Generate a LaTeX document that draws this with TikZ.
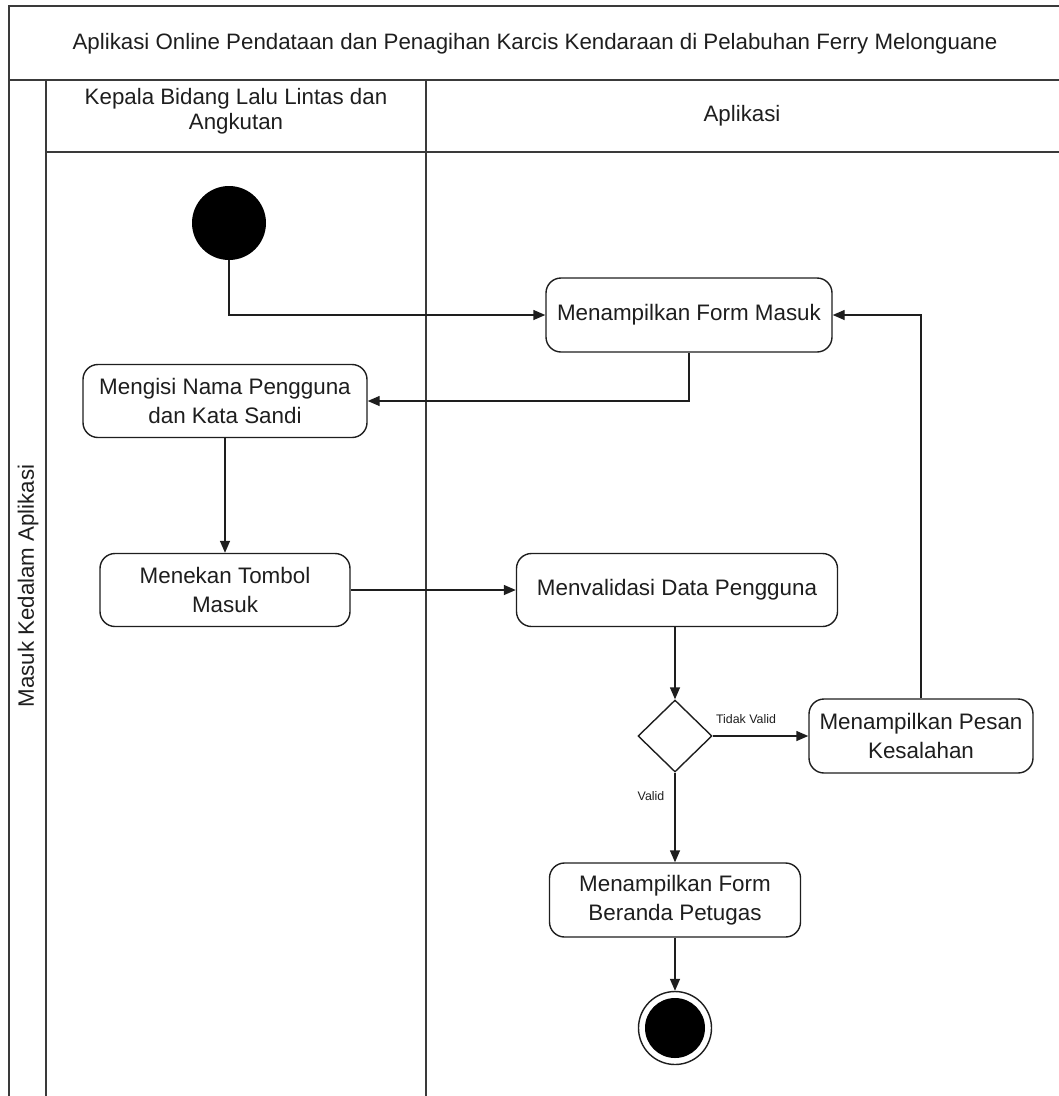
\documentclass[tikz,border=0pt]{standalone}
\usepackage{fontspec}
\setmainfont{Liberation Sans}
\usetikzlibrary{arrows.meta,shapes.geometric}
\definecolor{lane}{HTML}{3A3A3A}
\definecolor{ink}{HTML}{1E1E1E}
\tikzset{
  lanerule/.style={draw=lane,line width=2pt},
  action/.style={draw=ink,line width=1.4pt,rounded corners=15pt,fill=white,
    align=center,text=ink,inner sep=0pt,font=\fontsize{22.4}{29.5}\selectfont},
  flow/.style={draw=ink,line width=1.4pt,-{Triangle[length=12pt,width=10pt]}},
  guard/.style={text=ink,font=\fontsize{12.4}{14}\selectfont,inner sep=0pt},
  headtext/.style={text=ink,align=center,inner sep=0pt,font=\fontsize{22.3}{25}\selectfont}
}
\begin{document}
\begin{tikzpicture}[x=1pt,y=-1pt]
\useasboundingbox (0,0) rectangle (1059,1096);
% swimlane frame
\draw[lanerule] (1059,6) -- (9,6) -- (9,1096);
\draw[lanerule] (9,80) -- (1059,80);
\draw[lanerule] (46,80) -- (46,1096);
\draw[lanerule] (46,152) -- (1059,152);
\draw[lanerule] (426,80) -- (426,1096);
% titles
\node[headtext] (title) at (535,44) {Aplikasi Online Pendataan dan Penagihan Karcis Kendaraan di Pelabuhan Ferry Melonguane};
\node[headtext] (laneA) at (236,111) {Kepala Bidang Lalu Lintas dan\\Angkutan};
\node[headtext] (laneB) at (742,116) {Aplikasi};
\node[headtext,rotate=90] (part) at (28,586) {Masuk Kedalam Aplikasi};
% activity nodes
\node[circle,fill=black,minimum size=74pt,inner sep=0pt] (start) at (229,223) {};
\node[action,minimum width=286pt,minimum height=74pt] (form) at (689,315) {Menampilkan Form Masuk};
\node[action,minimum width=284pt,minimum height=73pt] (isi) at (225,401) {Mengisi Nama Pengguna\\dan Kata Sandi};
\node[action,minimum width=250pt,minimum height=73pt] (tekan) at (225,590) {Menekan Tombol\\Masuk};
\node[action,minimum width=321pt,minimum height=73pt] (valid) at (677,590) {Menvalidasi Data Pengguna};
\node[diamond,draw=ink,line width=1.4pt,fill=white,minimum width=74pt,minimum height=72pt,inner sep=0pt] (cek) at (675,736) {};
\node[action,minimum width=224pt,minimum height=74pt] (pesan) at (921,736) {Menampilkan Pesan\\Kesalahan};
\node[action,minimum width=251pt,minimum height=74pt] (beranda) at (675,900) {Menampilkan Form\\Beranda Petugas};
\node[circle,draw=ink,line width=1.4pt,fill=white,minimum size=73pt,inner sep=0pt] (stop) at (675,1028) {};
\node[circle,fill=black,minimum size=60pt,inner sep=0pt] (stopdot) at (stop.center) {};
% control flow
\draw[flow] (start.south) |- (form.west);
\draw[flow] (form.south) |- (isi.east);
\draw[flow] (isi.south) -- (tekan.north);
\draw[flow] (tekan.east) -- (valid.west);
\draw[flow] (valid.south -| cek.north) -- (cek.north);
\draw[flow] (cek.east) -- (pesan.west);
\draw[flow] (pesan.north) |- (form.east);
\draw[flow] (cek.south) -- (beranda.north);
\draw[flow] (beranda.south) -- (stop.north);
% guards
\node[guard] (notok) at (746,719) {Tidak Valid};
\node[guard] (ok) at (651,796) {Valid};
\end{tikzpicture}
\end{document}
